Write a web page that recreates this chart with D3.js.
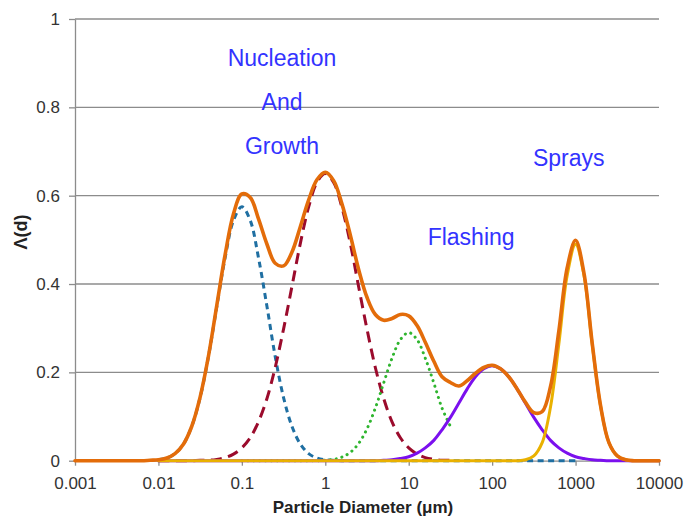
<!DOCTYPE html>
<html>
<head>
<meta charset="utf-8">
<script src="https://cdn.jsdelivr.net/npm/d3@7"></script>
<style>
  html, body { margin: 0; padding: 0; background: #fff; }
  svg { display: block; font-family: "Liberation Sans", Arial, sans-serif; }
</style>
</head>
<body>
<svg id="chart" width="686" height="519"></svg>
<script>
// Particle diameter grid (µm), 0.1-decade steps from 0.001 to 10000
const diameters = [
  1e-3,1.26e-3,1.58e-3,2e-3,2.51e-3,3.16e-3,3.98e-3,5.01e-3,6.31e-3,7.94e-3,
  1e-2,1.26e-2,1.58e-2,2e-2,2.51e-2,3.16e-2,3.98e-2,5.01e-2,6.31e-2,7.94e-2,
  1e-1,1.26e-1,1.58e-1,2e-1,2.51e-1,3.16e-1,3.98e-1,5.01e-1,6.31e-1,7.94e-1,
  1,1.26,1.58,2,2.51,3.16,3.98,5.01,6.31,7.94,
  10,12.6,15.8,20,25.1,31.6,39.8,50.1,63.1,79.4,
  100,126,158,200,251,316,398,501,631,794,
  1000,1260,1580,2000,2510,3160,3980,5010,6310,7940,
  10000
];

// Nucleation mode (blue dashed)
const nucleation = [
  null,null,null,null,null,null,null,null,null,null,
  0.002,0.006,0.016,0.038,0.078,0.143,0.236,0.349,0.460,0.544,
  0.575,0.544,0.460,0.349,0.236,0.143,0.078,0.038,0.016,0.006,
  0.002,0.001,0,0,0,0,0,0,0,0,
  0,0,0,0,0,0,0,0,0,0,
  0,0,0,0,0,0,0,0,0,0,
  0,null,null,null,null,null,null,null,null,null,
  null
];

// Growth mode (dark red dashed)
const growth = [
  null,null,null,null,null,null,null,null,null,null,
  0,0,0,0,0,0.001,0.001,0.003,0.007,0.015,
  0.029,0.052,0.088,0.141,0.211,0.298,0.394,0.491,0.574,0.630,
  0.650,0.630,0.574,0.491,0.394,0.298,0.211,0.141,0.088,0.052,
  0.029,0.015,0.007,0.003,0.001,0.001,null,null,null,null,
  null,null,null,null,null,null,null,null,null,null,
  null,null,null,null,null,null,null,null,null,null,
  null
];

// Intermediate mode (green dotted)
const intermediate = [
  null,null,null,null,null,null,null,null,null,null,
  null,null,null,null,null,null,null,null,null,null,
  0,0,0,0,0,0,0,0,0,0,
  0.001,0.003,0.008,0.019,0.039,0.072,0.119,0.176,0.232,0.274,
  0.290,0.274,0.232,0.176,0.119,0.078,null,null,null,null,
  null,null,null,null,null,null,null,null,null,null,
  null,null,null,null,null,null,null,null,null,null,
  null
];

// Flashing mode (purple)
const flashing = [
  null,null,null,null,null,null,null,null,null,null,
  0,0,0,0,0,0,0,0,0,0,
  0,0,0,0,0,0,0,0,0,0,
  0,0,0,0,0,0,0,0.001,0.002,0.005,
  0.009,0.017,0.029,0.046,0.070,0.098,0.130,0.162,0.190,0.208,
  0.215,0.208,0.190,0.162,0.130,0.098,0.070,0.046,0.029,0.017,
  0.009,0.005,0.002,0.001,0,0,0,0,0,0,
  0
];

// Sprays mode (yellow)
const sprays = [
  null,null,null,null,null,null,null,null,null,null,
  0,0,0,0,0,0,0,0,0,0,
  0,0,0,0,0,0,0,0,0,0,
  0,0,0,0,0,0,0,0,0,0,
  0,0,0,0,0,0,0,0,0,0,
  0,0,0,0,0.002,0.011,0.041,0.122,0.265,0.420,
  0.490,0.420,0.265,0.122,0.041,0.011,0.002,0,0,0,
  0
];

// Total distribution (orange)
const total = [
  0,0,0,0,0,0,0,0,0,0.001,
  0.002,0.006,0.016,0.038,0.078,0.144,0.237,0.352,0.467,0.559,
  0.604,0.596,0.548,0.490,0.447,0.441,0.472,0.529,0.590,0.636,
  0.653,0.634,0.582,0.510,0.433,0.370,0.331,0.318,0.322,0.331,
  0.328,0.306,0.268,0.225,0.190,0.177,0.169,0.181,0.198,0.211,
  0.216,0.208,0.190,0.162,0.132,0.109,0.111,0.168,0.294,0.437,
  0.499,0.425,0.267,0.123,0.041,0.011,0.002,0,0,0,
  0
];

const xTicks = [0.001, 0.01, 0.1, 1, 10, 100, 1000, 10000];
const xTickLabels = ["0.001", "0.01", "0.1", "1", "10", "100", "1000", "10000"];
const yTicks = [0, 0.2, 0.4, 0.6, 0.8, 1];
const yTickLabels = ["0", "0.2", "0.4", "0.6", "0.8", "1"];

const annotations = [
  { text: "Nucleation", d: 0.303, v: 0.894 },
  { text: "And", d: 0.303, v: 0.794 },
  { text: "Growth", d: 0.303, v: 0.694 },
  { text: "Sprays", d: 827, v: 0.667 },
  { text: "Flashing", d: 56, v: 0.488 }
];

const svg = d3.select("#chart");
const W = 686, H = 519;
const m = { left: 75, right: 27, top: 19, bottom: 58.3 };

svg.append("rect").attr("width", W).attr("height", H).attr("fill", "#fff");

const x = d3.scaleLog().domain([0.001, 10000]).range([m.left, W - m.right]);
const y = d3.scaleLinear().domain([0, 1]).range([H - m.bottom, m.top]);

const axisColor = "#8c8c8c";

// gridlines
svg.append("g").selectAll("line").data(yTicks.filter(d => d > 0)).join("line")
  .attr("x1", m.left).attr("x2", W - m.right)
  .attr("y1", d => y(d)).attr("y2", d => y(d))
  .attr("stroke", axisColor).attr("stroke-width", 1.3);

// y axis
const yAxis = svg.append("g").attr("transform", `translate(${m.left},0)`)
  .call(d3.axisLeft(y).tickValues(yTicks).tickSize(6).tickSizeOuter(0).tickPadding(9)
    .tickFormat((d, i) => yTickLabels[i]));
yAxis.select(".domain").attr("stroke", axisColor).attr("stroke-width", 1.3);
yAxis.selectAll(".tick line").attr("stroke", axisColor).attr("stroke-width", 1.3);
yAxis.selectAll(".tick text").attr("font-size", 17).attr("fill", "#333")
  .attr("font-family", "Liberation Sans, Arial, sans-serif");

// x axis
const xAxis = svg.append("g").attr("transform", `translate(0,${y(0)})`)
  .call(d3.axisBottom(x).tickValues(xTicks).tickSize(5).tickSizeOuter(0).tickPadding(11)
    .tickFormat((d, i) => xTickLabels[i]));
xAxis.select(".domain").attr("stroke", axisColor).attr("stroke-width", 1.3);
xAxis.selectAll(".tick line").attr("stroke", axisColor).attr("stroke-width", 1.3);
xAxis.selectAll(".tick text").attr("font-size", 17).attr("fill", "#333")
  .attr("font-family", "Liberation Sans, Arial, sans-serif");

// axis titles
svg.append("text").attr("x", 363).attr("y", 513).attr("text-anchor", "middle")
  .attr("font-size", 17).attr("font-weight", "bold").attr("fill", "#222")
  .text("Particle Diameter (μm)");
svg.append("text").attr("transform", "translate(27,232) rotate(-90)")
  .attr("text-anchor", "middle").attr("font-size", 18).attr("font-weight", "bold").attr("fill", "#222")
  .text("Λ(d)");

// series
const line = d3.line()
  .defined(d => d[1] !== null)
  .x(d => x(d[0])).y(d => y(d[1]))
  .curve(d3.curveCatmullRom.alpha(0.5));

const series = [
  { values: nucleation, color: "#1f6fa2", width: 3, dash: "6,4.5", cap: "butt" },
  { values: growth, color: "#9b0b2c", width: 3, dash: "11,6.5", cap: "butt" },
  { values: intermediate, color: "#2fb52f", width: 3, dash: "0.1,5.8", cap: "round" },
  { values: flashing, color: "#7b10ee", width: 3, dash: null, cap: "round" },
  { values: sprays, color: "#e9b100", width: 3, dash: null, cap: "round" },
  { values: total, color: "#e36c0a", width: 3.6, dash: null, cap: "round" }
];

series.forEach(s => {
  const pts = diameters.map((d, i) => [d, s.values[i]]);
  svg.append("path").datum(pts)
    .attr("d", line)
    .attr("fill", "none")
    .attr("stroke", s.color)
    .attr("stroke-width", s.width)
    .attr("stroke-linecap", s.cap)
    .attr("stroke-linejoin", "round")
    .attr("stroke-dasharray", s.dash);
});

// annotations
svg.append("g").selectAll("text").data(annotations).join("text")
  .attr("x", d => x(d.d)).attr("y", d => y(d.v))
  .attr("text-anchor", "middle")
  .attr("font-size", 23)
  .attr("fill", "#3333ff")
  .text(d => d.text);
</script>
</body>
</html>
